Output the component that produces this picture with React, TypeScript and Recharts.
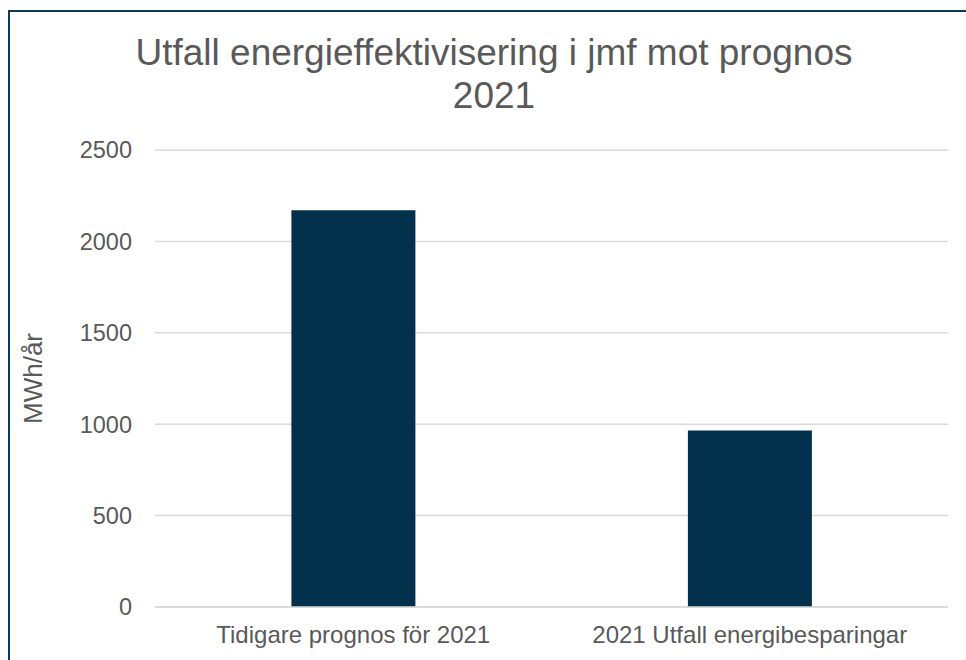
import React from "react";
import { BarChart, Bar, XAxis, YAxis, CartesianGrid, Label } from "recharts";

const categories = ["Tidigare prognos för 2021", "2021 Utfall energibesparingar"];
const values = [2170, 965];
const yTicks = [0, 500, 1000, 1500, 2000, 2500];

const data = categories.map((c, i) => ({ name: c, value: values[i] }));

const font = "'Liberation Sans', Arial, sans-serif";
const grey = "#595959";

export default function App() {
  return (
    <div style={{ position: "absolute", left: 0, top: 0, width: 966, height: 660, overflow: "hidden", background: "#fff", fontFamily: font }}>
      <div style={{ position: "absolute", left: 8, top: 10, width: 1200, height: 1000, borderLeft: "2px solid #0d3a55", borderTop: "2px solid #0d3a55" }} />
      <div style={{ position: "absolute", left: 0, top: 31, width: 988, textAlign: "center", fontSize: 37, lineHeight: "43px", color: grey }}>
        Utfall energieffektivisering i jmf mot prognos
        <br />
        2021
      </div>
      <BarChart
        width={966}
        height={660}
        data={data}
        margin={{ top: 150, right: 18, bottom: 0, left: 0 }}
        barCategoryGap="34.4%"
        style={{ position: "absolute", left: 0, top: 0 }}
      >
        <CartesianGrid vertical={false} stroke="#d9d9d9" strokeWidth={1.5} />
        <XAxis
          dataKey="name"
          axisLine={{ stroke: "#d9d9d9", strokeWidth: 1.5 }}
          tickLine={false}
          tickSize={0}
          tickMargin={19}
          tick={{ fill: grey, fontSize: 24, fontFamily: font }}
          height={53}
        />
        <YAxis
          width={155}
          domain={[0, 2500]}
          ticks={yTicks}
          axisLine={false}
          tickLine={false}
          tickSize={0}
          tickMargin={23}
          tick={{ fill: grey, fontSize: 23.5, fontFamily: font }}
        >
          <Label
            value="MWh/år"
            angle={-90}
            position="insideLeft"
            offset={33}
            style={{ fill: grey, fontSize: 26, fontFamily: font, textAnchor: "middle" }}
          />
        </YAxis>
        <Bar dataKey="value" fill="#02304d" isAnimationActive={false} />
      </BarChart>
    </div>
  );
}
